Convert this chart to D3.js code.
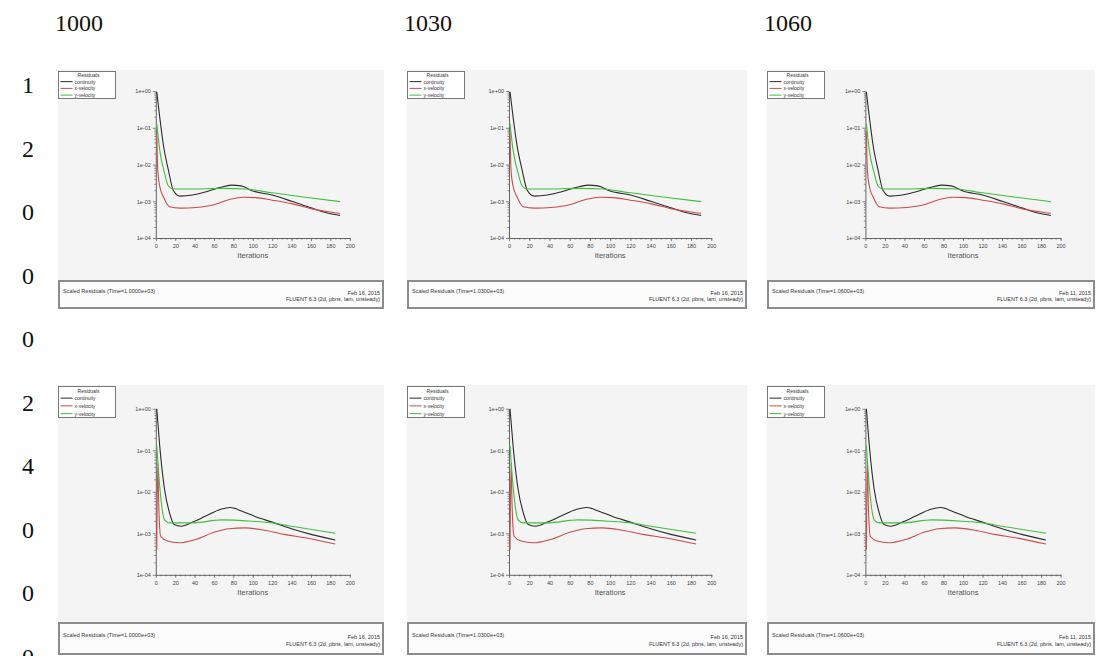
<!DOCTYPE html>
<html>
<head>
<meta charset="utf-8">
<script src="https://cdn.jsdelivr.net/npm/d3@7"></script>
<style>
  body { margin: 0; background: #fff; }
  svg { display: block; }
</style>
</head>
<body>
<svg width="1104" height="656"></svg>
<script>
// labels around the grid
const columnLabels = ['1000', '1030', '1060']
const rowLabels = ['1', '2', '0', '0', '0', '2', '4', '0', '0', '0']
const flowTimes = ['1.0000e+03', '1.0300e+03', '1.0600e+03']
const runDates = ['Feb 16, 2015', 'Feb 16, 2015', 'Feb 11, 2015']
const legendLabels = ['continuity', 'x-velocity', 'y-velocity']
const xTickValues = [0, 20, 40, 60, 80, 100, 120, 140, 160, 180, 200]
const yTickValues = [1, 1e-1, 1e-2, 1e-3, 1e-4]

// top row residuals
const topContinuityIter = [1, 4, 8, 13, 18, 25, 38, 52, 66, 78, 88, 100, 120, 141, 161, 178, 190]
const topContinuity = [0.95, 0.2, 0.032, 7e-3, 2.0e-3, 1.38e-3, 1.48e-3, 1.82e-3, 2.35e-3, 2.75e-3, 2.63e-3, 1.9e-3, 1.48e-3, 9.8e-4, 6.5e-4, 4.7e-4, 4.1e-4]
const topXVelIter = [1, 2, 4, 8, 14, 25, 42, 59, 76, 90, 103, 120, 141, 161, 178, 190]
const topXVel = [0.08, 7e-3, 2.6e-3, 1.3e-3, 7.1e-4, 6.5e-4, 6.8e-4, 7.9e-4, 1.12e-3, 1.29e-3, 1.26e-3, 1.07e-3, 8.5e-4, 6.2e-4, 5.2e-4, 4.7e-4]
const topYVelIter = [1, 4, 9, 13, 18, 35, 69, 93, 120, 154, 190]
const topYVel = [0.13, 0.025, 5.8e-3, 2.6e-3, 2.15e-3, 2.15e-3, 2.25e-3, 2.15e-3, 1.7e-3, 1.29e-3, 9.8e-4]

// bottom row residuals
const botContinuityIter = [1, 4, 9, 14, 19, 26, 38, 51, 67, 77, 89, 103, 120, 140, 161, 185]
const botContinuity = [1.0, 0.13, 0.0115, 3.2e-3, 1.62e-3, 1.48e-3, 1.86e-3, 2.57e-3, 3.8e-3, 4.17e-3, 3.4e-3, 2.5e-3, 1.86e-3, 1.29e-3, 9.3e-4, 6.9e-4]
const botXVelIter = [1, 2, 3, 5, 12, 24, 41, 61, 75, 92, 113, 134, 154, 185]
const botXVel = [4e-4, 0.05, 5e-3, 8.5e-4, 6.5e-4, 5.9e-4, 7.1e-4, 1.07e-3, 1.29e-3, 1.35e-3, 1.17e-3, 9.3e-4, 7.8e-4, 5.5e-4]
const botYVelIter = [1, 4, 9, 14, 38, 68, 99, 120, 140, 185]
const botYVel = [0.13, 0.0138, 2.1e-3, 1.78e-3, 1.78e-3, 2.1e-3, 1.95e-3, 1.78e-3, 1.48e-3, 1.0e-3]

const lineColors = ['#2a2a2a', '#cc4a4a', '#3fbf3f']

// layout of the grid
const colLeft = [58, 407, 767]
const colWidth = [326, 340, 328]
const rowTop = [70, 385]
const rowHeight = [239, 270]

const zip = (iters, vals) => iters.map((it, i) => ({ it, v: vals[i] }))

const rowSeries = [
  [zip(topContinuityIter, topContinuity), zip(topXVelIter, topXVel), zip(topYVelIter, topYVel)],
  [zip(botContinuityIter, botContinuity), zip(botXVelIter, botXVel), zip(botYVelIter, botYVel)]
]

const svg = d3.select('svg')

// column headers
svg.selectAll('text.col')
  .data(columnLabels)
  .enter()
  .append('text')
    .attr('class', 'col')
    .attr('x', (d, i) => colLeft[i] - 3)
    .attr('y', 31)
    .attr('font-family', 'Liberation Serif, serif')
    .attr('font-size', 24)
    .attr('fill', '#111')
    .text(d => d)

// row labels down the left
svg.selectAll('text.row')
  .data(rowLabels)
  .enter()
  .append('text')
    .attr('class', 'row')
    .attr('x', 22)
    .attr('y', (d, i) => 93 + 63.5 * i)
    .attr('font-family', 'Liberation Serif, serif')
    .attr('font-size', 24)
    .attr('fill', '#111')
    .text(d => d)

const fmt = v => '1e-0' + Math.round(-Math.log10(v))

function drawPanel(g, w, h, series, time, date) {
  const footTop = Math.round(h * 0.879)

  g.append('rect')
    .attr('width', w)
    .attr('height', footTop)
    .attr('fill', '#f4f4f4')

  const x = d3.scaleLinear()
    .domain([0, 200])
    .range([w * 0.3, w * 0.895])

  const y = d3.scaleLog()
    .domain([1e-4, 1])
    .range([h * 0.703, h * 0.088])

  // minor ticks
  const minorY = []
  yTickValues.slice(1).forEach(d => {
    for (let k = 2; k <= 9; k++) minorY.push(d * k)
  })
  const gyMinor = g.append('g')
    .attr('transform', `translate(${x(0)},0)`)
    .call(d3.axisLeft(y).tickValues(minorY).tickSize(1.5).tickFormat(''))
  gyMinor.select('.domain').remove()

  const gxMinor = g.append('g')
    .attr('transform', `translate(0,${y(1e-4)})`)
    .call(d3.axisBottom(x).tickValues(d3.range(0, 201, 5)).tickSize(1.5).tickFormat(''))
  gxMinor.select('.domain').remove()

  const gy = g.append('g')
    .attr('transform', `translate(${x(0)},0)`)
    .call(d3.axisLeft(y).tickValues(yTickValues).tickSize(3).tickSizeOuter(0)
      .tickFormat(d => d === 1 ? '1e+00' : fmt(d)))

  const gx = g.append('g')
    .attr('transform', `translate(0,${y(1e-4)})`)
    .call(d3.axisBottom(x).tickValues(xTickValues).tickSize(3).tickSizeOuter(0))

  ;[gy, gx, gyMinor, gxMinor].forEach(a => {
    a.selectAll('line').attr('stroke', '#666').attr('stroke-width', 0.8)
    a.selectAll('path').attr('stroke', '#555').attr('stroke-width', 0.9)
    a.selectAll('text')
      .attr('font-family', 'Liberation Sans, Arial, sans-serif')
      .attr('font-size', 5.5)
      .attr('fill', '#444')
  })
  gy.selectAll('text').attr('x', -5)
  gx.selectAll('text').attr('y', 6)

  g.append('text')
    .attr('x', (x(0) + x(200)) / 2)
    .attr('y', y(1e-4) + 20)
    .attr('text-anchor', 'middle')
    .attr('font-family', 'Liberation Sans, Arial, sans-serif')
    .attr('font-size', 7.5)
    .attr('fill', '#555')
    .text('Iterations')

  // residual curves
  const line = d3.line()
    .x(d => x(d.it))
    .y(d => y(d.v))
    .curve(d3.curveMonotoneX)

  g.selectAll('path.res')
    .data(series)
    .enter()
    .append('path')
      .attr('class', 'res')
      .attr('d', line)
      .attr('fill', 'none')
      .attr('stroke', (d, i) => lineColors[i])
      .attr('stroke-width', 1.1)

  // legend box
  const lh = Math.round(h * 0.115)
  const lg = g.append('g').attr('transform', 'translate(0.5,1.5)')
  lg.append('rect')
    .attr('width', 57)
    .attr('height', lh)
    .attr('fill', '#fff')
    .attr('stroke', '#777')
    .attr('stroke-width', 1)
  const rowH = lh / 4
  lg.append('text')
    .attr('x', 30)
    .attr('y', rowH - 1)
    .attr('text-anchor', 'middle')
    .attr('font-family', 'Liberation Sans, Arial, sans-serif')
    .attr('font-size', 5)
    .attr('fill', '#333')
    .text('Residuals')
  legendLabels.forEach((lab, i) => {
    const yy = rowH * (i + 1.5)
    lg.append('line')
      .attr('x1', 2).attr('x2', 14)
      .attr('y1', yy).attr('y2', yy)
      .attr('stroke', lineColors[i])
      .attr('stroke-width', 1)
    lg.append('text')
      .attr('x', 16)
      .attr('y', yy + 2)
      .attr('font-family', 'Liberation Sans, Arial, sans-serif')
      .attr('font-size', 5)
      .attr('fill', '#333')
      .text(lab)
  })

  // footer strip
  const fh = h - footTop
  g.append('rect')
    .attr('x', 1)
    .attr('y', footTop + 1)
    .attr('width', w - 2)
    .attr('height', fh - 2)
    .attr('fill', '#fcfcfc')
    .attr('stroke', '#8c8c8c')
    .attr('stroke-width', 2)
  g.append('text')
    .attr('x', 5)
    .attr('y', footTop + fh * 0.45)
    .attr('font-family', 'Liberation Sans, Arial, sans-serif')
    .attr('font-size', 5.5)
    .attr('fill', '#333')
    .text(`Scaled Residuals   (Time=${time})`)
  g.append('text')
    .attr('x', w - 4)
    .attr('y', footTop + fh * 0.5)
    .attr('text-anchor', 'end')
    .attr('font-family', 'Liberation Sans, Arial, sans-serif')
    .attr('font-size', 5.5)
    .attr('fill', '#333')
    .text(date)
  g.append('text')
    .attr('x', w - 4)
    .attr('y', footTop + fh * 0.72)
    .attr('text-anchor', 'end')
    .attr('font-family', 'Liberation Sans, Arial, sans-serif')
    .attr('font-size', 5.5)
    .attr('fill', '#333')
    .text('FLUENT 6.3 (2d, pbns, lam, unsteady)')
}

rowTop.forEach((top, r) => {
  colLeft.forEach((left, c) => {
    const g = svg.append('g').attr('transform', `translate(${left},${top})`)
    drawPanel(g, colWidth[c], rowHeight[r], rowSeries[r], flowTimes[c], runDates[c])
  })
})
</script>
</body>
</html>
